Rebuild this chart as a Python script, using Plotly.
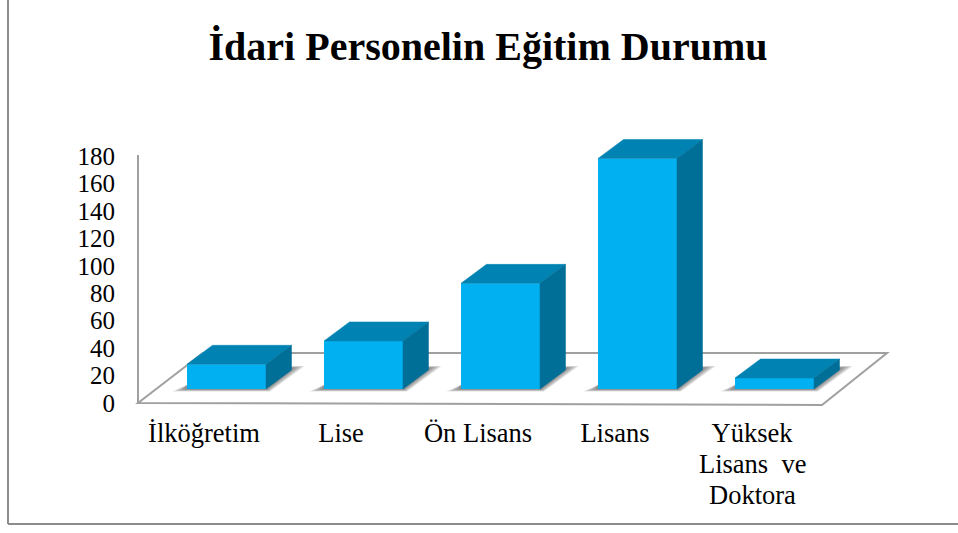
import plotly.graph_objects as go

categories = ["İlköğretim", "Lise", "Ön Lisans", "Lisans", "Yüksek<br>Lisans\u00a0 ve<br>Doktora"]
values = [18, 35, 77, 168, 8]
y_ticks = [0, 20, 40, 60, 80, 100, 120, 140, 160, 180]

W, H = 958, 533
# plot area in page pixels
L, R, T, B = 118, 900, 130, 414
PX_X = 137.0      # pixels per category
PX_Y = 1.372      # pixels per value unit
X0_PX = 226.5     # first bar centre
Y0_PX = 403.0     # value 0 tick
LABEL_SHIFT = 0.164

x_range = [(L - X0_PX) / PX_X, (R - X0_PX) / PX_X]
y_range = [(Y0_PX - B) / PX_Y, (Y0_PX - T) / PX_Y]


def ax(px):
    return (px - X0_PX) / PX_X


def ay(py):
    return (Y0_PX - py) / PX_Y


def paper_x(px):
    return (px - L) / (R - L)


def paper_y(py):
    return (B - py) / (B - T)


bar_w = 79 / PX_X
base = ay(389)
dx = 25.5 / PX_X
dy = 19 / PX_Y

FRONT = "#00B0F0"
TOP = "#0083B3"
SIDE = "#006F98"
GREY = "#A0A0A0"

fig = go.Figure()

xs = list(range(len(values)))
fig.add_trace(go.Bar(x=xs, y=values, base=base, width=bar_w, marker_color=FRONT,
                     marker_line_width=0, hoverinfo="skip"))

for i, v in zip(xs, values):
    x0, x1 = i - bar_w / 2, i + bar_w / 2
    top = base + v
    fig.add_trace(go.Scatter(
        x=[x0, x1, x1 + dx, x0 + dx, x0], y=[top, top, top + dy, top + dy, top],
        mode="lines", fill="toself", fillcolor=TOP, line=dict(color=TOP, width=0.5),
        hoverinfo="skip"))
    fig.add_trace(go.Scatter(
        x=[x1, x1 + dx, x1 + dx, x1, x1], y=[base, base + dy, top + dy, top, base],
        mode="lines", fill="toself", fillcolor=SIDE, line=dict(color=SIDE, width=0.5),
        hoverinfo="skip"))

shapes = []


def poly(points, **kw):
    path = "M " + " L ".join(f"{ax(px):.4f},{ay(py):.3f}" for px, py in points) + " Z"
    shapes.append(dict(type="path", path=path, xref="x", yref="y", layer="below", **kw))


# floor and wall
poly([(138, 403), (822, 405), (887, 353), (203, 353)],
     line=dict(color=GREY, width=2), fillcolor="white")
shapes.append(dict(type="line", xref="x", yref="y", layer="below",
                   x0=ax(138), x1=ax(138), y0=ay(403), y1=ay(155),
                   line=dict(color=GREY, width=2)))

# soft shadows on the floor, stacked so they fade outwards
for s in (1.0, 0.88, 0.76, 0.64, 0.52, 0.4, 0.28, 0.16):
    for i in xs:
        cx = X0_PX + PX_X * i
        x0, x1 = cx - 39.5, cx + 39.5
        poly([(x0 - 15 * s, 389 + 2.5 * s), (x1 + 4 * s, 389 + 2.5 * s),
              (x1 + 26 + 13 * s, 368 - 2 * s), (x1 + 25, 368 - 2 * s),
              (x1, 385), (x0, 385)],
             line=dict(width=0), fillcolor="rgba(70,70,70,0.11)")

# chart frame, only left and bottom are on the page
FRAME = "#8C8C8C"
shapes.append(dict(type="line", xref="paper", yref="paper",
                   x0=paper_x(8), x1=paper_x(8), y0=paper_y(0), y1=paper_y(524),
                   line=dict(color=FRAME, width=2)))
shapes.append(dict(type="line", xref="paper", yref="paper",
                   x0=paper_x(8), x1=paper_x(958), y0=paper_y(524), y1=paper_y(524),
                   line=dict(color=FRAME, width=2)))

# extra lines of a wrapped label, at the reference's tighter line spacing
annotations = []
for i, label in enumerate(categories):
    for n, part in enumerate(label.split("<br>")[1:], start=1):
        annotations.append(dict(text=part, x=i - LABEL_SHIFT, y=paper_y(433 + 31 * n),
                                xref="x", yref="paper", showarrow=False, yanchor="middle",
                                font=dict(size=26.5, color="black")))

fig.update_layout(
    width=W, height=H,
    margin=dict(l=L, r=W - R, t=T, b=H - B, autoexpand=False),
    paper_bgcolor="white", plot_bgcolor="rgba(0,0,0,0)",
    showlegend=False,
    shapes=shapes,
    annotations=annotations,
    font=dict(family="Liberation Serif", color="black"),
    title=dict(text="<b>İdari Personelin Eğitim Durumu</b>", xref="container", yref="container",
               x=488 / W, xanchor="center", y=1 - 46 / H, yanchor="middle",
               font=dict(family="Liberation Serif", size=40, color="black")),
)
fig.update_xaxes(range=x_range, tickmode="array", tickvals=[i - LABEL_SHIFT for i in xs],
                 ticktext=[c.split("<br>")[0] for c in categories], tickangle=0, showgrid=False,
                 zeroline=False, showline=False, ticks="", tickfont=dict(size=26.5, color="black"))
fig.update_yaxes(range=y_range, tickmode="array", tickvals=y_ticks, showgrid=False,
                 zeroline=False, showline=False, ticks="", ticklabelstandoff=2,
                 tickfont=dict(size=25, color="black"))

fig.write_html("out.html", post_script="document.body.style.margin='0';",
               config={"displayModeBar": False})
